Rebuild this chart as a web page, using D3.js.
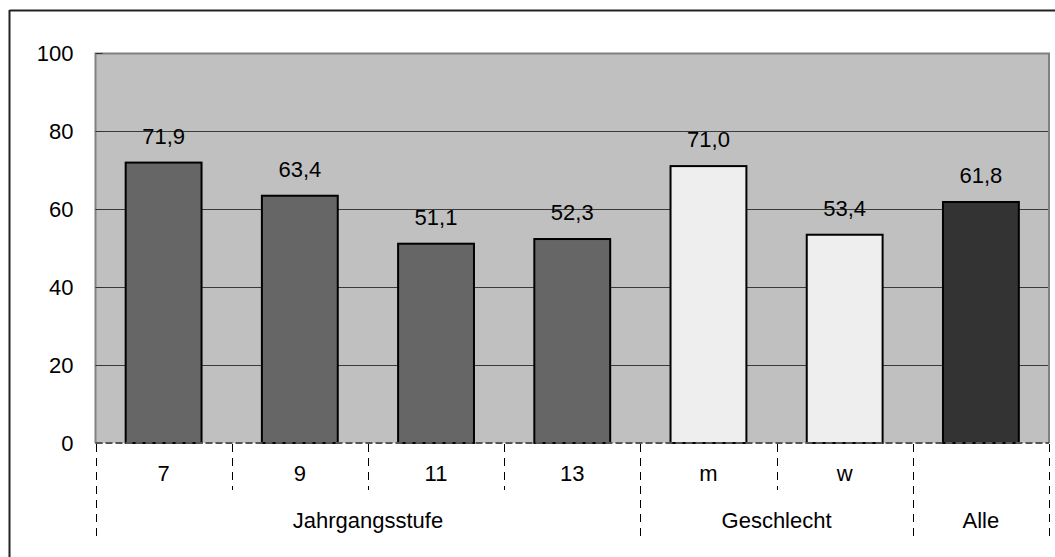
<!DOCTYPE html>
<html>
<head>
<meta charset="utf-8">
<script src="https://cdn.jsdelivr.net/npm/d3@7"></script>
<style>
  html, body { margin: 0; padding: 0; background: #fff; }
  svg { display: block; font-family: "Liberation Sans", Arial, sans-serif; }
</style>
</head>
<body>
<svg id="chart" width="1055" height="557"></svg>
<script>
// Anteil in Prozent nach Jahrgangsstufe, Geschlecht und insgesamt
const categories = ["7", "9", "11", "13", "m", "w", "Alle"];
const values = [71.9, 63.4, 51.1, 52.3, 71.0, 53.4, 61.8];
const groupOf = ["jg", "jg", "jg", "jg", "g", "g", "alle"];
const groups = [
  { key: "jg", label: "Jahrgangsstufe" },
  { key: "g", label: "Geschlecht" },
  { key: "alle", label: "Alle" }
];
const yTicks = [0, 20, 40, 60, 80, 100];
const groupFill = { jg: "#666666", g: "#eeeeee", alle: "#333333" };

const FS = 22;
const svg = d3.select("#chart");
const plot = { left: 95.5, right: 1049, top: 53, bottom: 443 };

const x = d3.scaleBand()
  .domain(categories)
  .range([plot.left, plot.right])
  .paddingInner(0.443)
  .paddingOuter(0.2215);

const y = d3.scaleLinear().domain([0, 100]).range([plot.bottom, plot.top]);

const fmt = v => d3.format(".1f")(v).replace(".", ",");

// outer frame (top and left edges)
svg.append("line").attr("x1", 9.5).attr("x2", 1055).attr("y1", 10.5).attr("y2", 10.5)
  .attr("stroke", "#222").attr("stroke-width", 2);
svg.append("line").attr("x1", 9.5).attr("x2", 9.5).attr("y1", 10).attr("y2", 557)
  .attr("stroke", "#222").attr("stroke-width", 2);

// plot background
svg.append("rect")
  .attr("x", plot.left).attr("y", plot.top)
  .attr("width", plot.right - plot.left).attr("height", plot.bottom - plot.top)
  .attr("fill", "#c0c0c0");

// gridlines
svg.append("g").selectAll("line")
  .data(yTicks.filter(t => t > 0 && t < 100))
  .join("line")
  .attr("x1", plot.left).attr("x2", plot.right)
  .attr("y1", d => Math.round(y(d)) + 0.5).attr("y2", d => Math.round(y(d)) + 0.5)
  .attr("stroke", "#3a3a3a").attr("stroke-width", 1);

// plot border
svg.append("path")
  .attr("d", `M${plot.left},${plot.bottom}V${plot.top + 0.5}H${plot.right}V${plot.bottom}`)
  .attr("fill", "none").attr("stroke", "#808080").attr("stroke-width", 2);

// y axis
const yAxis = d3.axisLeft(y).tickValues(yTicks).tickSize(0).tickPadding(22);
const yg = svg.append("g").attr("transform", `translate(${plot.left},0)`).call(yAxis);
yg.select(".domain").remove();
yg.attr("font-size", FS).attr("font-family", "'Liberation Sans', Arial, sans-serif");
yg.selectAll("text").attr("fill", "#000");
svg.append("g").selectAll("line")
  .data(yTicks)
  .join("line")
  .attr("x1", plot.left).attr("x2", plot.left + 7)
  .attr("y1", d => Math.round(y(d)) + 0.5).attr("y2", d => Math.round(y(d)) + 0.5)
  .attr("stroke", "#333").attr("stroke-width", 1);

// bars
svg.append("g").selectAll("rect")
  .data(categories)
  .join("rect")
  .attr("x", d => x(d))
  .attr("width", x.bandwidth())
  .attr("y", (d, i) => y(values[i]))
  .attr("height", (d, i) => y(0) - y(values[i]))
  .attr("fill", (d, i) => groupFill[groupOf[i]])
  .attr("stroke", "#000").attr("stroke-width", 2);

// value labels
svg.append("g").selectAll("text")
  .data(categories)
  .join("text")
  .attr("x", d => x(d) + x.bandwidth() / 2)
  .attr("y", (d, i) => y(values[i]) - 19)
  .attr("text-anchor", "middle")
  .attr("font-size", FS)
  .text((d, i) => fmt(values[i]));

// zero line
svg.append("line")
  .attr("x1", plot.left).attr("x2", plot.right)
  .attr("y1", y(0)).attr("y2", y(0))
  .attr("stroke", "#555").attr("stroke-width", 2)
  .attr("stroke-dasharray", "7,3");

// category boundaries below the axis
const boundaries = d3.range(categories.length + 1).map(i => {
  const prev = groupOf[i - 1], next = groupOf[i];
  const long = i === 0 || i === categories.length || prev !== next;
  return { xPos: plot.left + i * (plot.right - plot.left) / categories.length, long };
});
svg.append("g").selectAll("line")
  .data(boundaries)
  .join("line")
  .attr("x1", d => Math.round(d.xPos) + 0.5).attr("x2", d => Math.round(d.xPos) + 0.5)
  .attr("y1", plot.bottom + 1)
  .attr("y2", d => d.long ? 537 : 490)
  .attr("stroke", "#000").attr("stroke-width", 1)
  .attr("stroke-dasharray", "8,6");

// category labels (Alle only appears on the group row)
svg.append("g").selectAll("text")
  .data(categories.filter((c, i) => groupOf[i] !== "alle"))
  .join("text")
  .attr("x", d => x(d) + x.bandwidth() / 2)
  .attr("y", 481)
  .attr("text-anchor", "middle")
  .attr("font-size", FS)
  .text(d => d);

// group labels
svg.append("g").selectAll("text")
  .data(groups)
  .join("text")
  .attr("x", g => {
    const members = categories.filter((c, i) => groupOf[i] === g.key);
    const a = x(members[0]), b = x(members[members.length - 1]) + x.bandwidth();
    return (a + b) / 2;
  })
  .attr("y", 528)
  .attr("text-anchor", "middle")
  .attr("font-size", FS)
  .text(g => g.label);
</script>
</body>
</html>
